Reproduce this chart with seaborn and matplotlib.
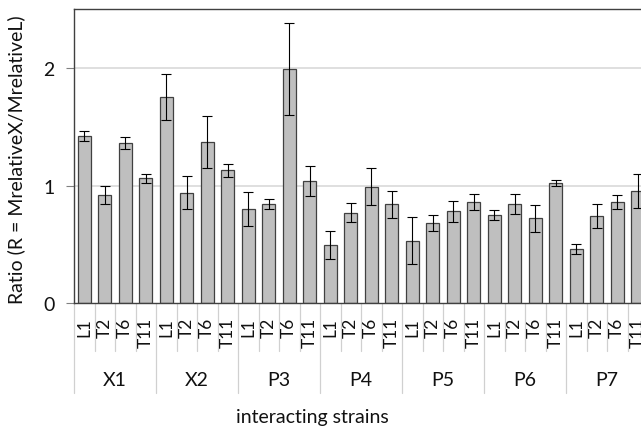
import matplotlib
matplotlib.use('Agg')
import matplotlib.pyplot as plt
import seaborn as sns
import pandas as pd
import numpy as np

# strains and interaction partners
groups = ['X1', 'X2', 'P3', 'P4', 'P5', 'P6', 'P7']
strains = ['L1', 'T2', 'T6', 'T11']

# ratio per group, in strain order L1, T2, T6, T11
ratios = [
    1.42, 0.92, 1.36, 1.06,   # X1
    1.75, 0.94, 1.37, 1.13,   # X2
    0.80, 0.84, 1.99, 1.04,   # P3
    0.49, 0.77, 0.99, 0.84,   # P4
    0.53, 0.68, 0.78, 0.86,   # P5
    0.75, 0.84, 0.72, 1.02,   # P6
    0.46, 0.74, 0.86, 0.95,   # P7
]
errors = [
    0.043, 0.077, 0.050, 0.037,
    0.196, 0.139, 0.220, 0.054,
    0.142, 0.042, 0.392, 0.125,
    0.119, 0.082, 0.156, 0.113,
    0.198, 0.065, 0.091, 0.071,
    0.043, 0.085, 0.113, 0.026,
    0.039, 0.102, 0.060, 0.144,
]

df = pd.DataFrame({
    'group': np.repeat(groups, len(strains)),
    'strain': strains * len(groups),
    'ratio': ratios,
    'err': errors,
})
df['key'] = df['group'] + '_' + df['strain']

sns.set_theme(style='white')
plt.rcParams['font.family'] = ['Lato', 'DejaVu Sans']

W, H = 641, 427
fig = plt.figure(figsize=(W / 100, H / 100), dpi=100)
# plot area runs past the right edge, as in the original crop
ax_left, ax_right, ax_top, ax_bottom = 74, 648, 10.3, 304
ax = fig.add_axes([ax_left / W, 1 - ax_bottom / H,
                   (ax_right - ax_left) / W, (ax_bottom - ax_top) / H])

sns.barplot(data=df, x='key', y='ratio', order=df['key'], color='#bfbfbf',
            saturation=1, width=0.65, errorbar=None, edgecolor='#404040',
            linewidth=0.9, ax=ax, zorder=2)
ax.errorbar(np.arange(len(df)), df['ratio'], yerr=df['err'], fmt='none',
            ecolor='black', elinewidth=0.8, capsize=3.3, capthick=0.8, zorder=3)

ax.set_xlim(-0.5, len(df) - 0.5)
ax.set_ylim(0, 2.5)
ax.set_yticks([0, 1, 2])
ax.set_yticklabels(['0', '1', '2'], fontsize=14, color='#111111')
ax.tick_params(axis='y', length=6, width=0.8, color='#808080', pad=8, left=True)
for y in [1, 2]:
    ax.axhline(y, color='#d9d9d9', lw=1.2, zorder=0)

for s in ['left', 'top', 'bottom']:
    ax.spines[s].set_color('#404040')
    ax.spines[s].set_linewidth(1)
ax.spines['right'].set_visible(False)

# two-level category axis drawn by hand
ax.set_xticks([])
ax.set_xlabel('')
ax.set_ylabel('')
trans = ax.get_xaxis_transform()
hpx = ax_bottom - ax_top
def frac(py):
    return -(py - ax_bottom) / hpx

for i, s in enumerate(df['strain']):
    ax.text(i, frac(318), s, rotation=90, ha='center', va='top', fontsize=12.5,
            color='#111111', transform=trans, clip_on=False)
for i in range(len(df) + 1):
    bottom = 393.7 if i % len(strains) == 0 else 352
    ax.plot([i - 0.5, i - 0.5], [0, frac(bottom)], color='#d0d0d0', lw=0.9,
            transform=trans, clip_on=False)
for j, g in enumerate(groups):
    ax.text(j * len(strains) + 1.5, frac(381), g, ha='center', va='center',
            fontsize=14, color='#111111', transform=trans, clip_on=False)

fig.text(312 / W, 1 - 418 / H, 'interacting strains', ha='center', va='center',
         fontsize=14, color='#111111')
fig.text(16 / W, 1 - 160 / H, 'Ratio (R = MrelativeX/MrelativeL)', rotation=90,
         ha='center', va='center', fontsize=14, color='#111111')

fig.savefig('out.png', dpi=100)
